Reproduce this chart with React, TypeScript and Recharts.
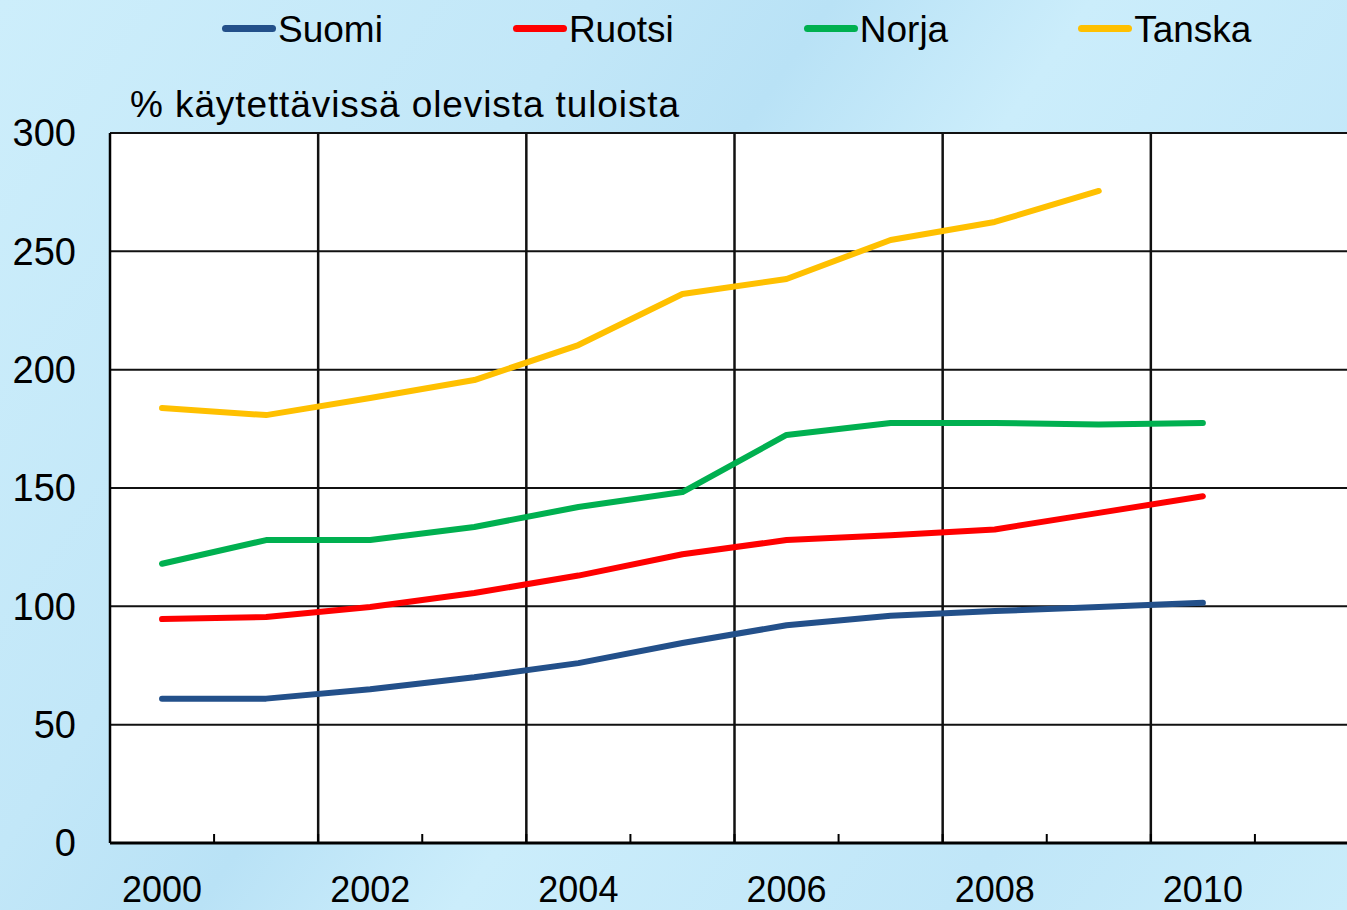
import { LineChart, Line, XAxis, YAxis, CartesianGrid, ReferenceLine } from 'recharts'

const years = [2000, 2001, 2002, 2003, 2004, 2005, 2006, 2007, 2008, 2009, 2010]
const suomi = [61, 61, 65, 70, 76, 84.5, 92, 96, 98, 99.7, 101.5]
const ruotsi = [94.6, 95.5, 99.7, 105.6, 113, 122, 128, 130, 132.5, 139.5, 146.5]
const norja = [118, 128, 128, 133.5, 142, 148.3, 172.4, 177.5, 177.5, 176.8, 177.5]
const tanska = [183.8, 180.8, 188, 195.6, 210.4, 232, 238.3, 254.8, 262.4, 275.5, null]

const yTicks = [0, 50, 100, 150, 200, 250, 300]
const xLabelYears = [2000, 2002, 2004, 2006, 2008, 2010]
const xBoundaries = [2000.5, 2001.5, 2002.5, 2003.5, 2004.5, 2005.5, 2006.5, 2007.5, 2008.5, 2009.5, 2010.5]
const gridBoundaries = [2001.5, 2003.5, 2005.5, 2007.5, 2009.5]
const yUnit = '% käytettävissä olevista tuloista'

const series = [
  { key: 'suomi', name: 'Suomi', color: '#23508A', values: suomi },
  { key: 'ruotsi', name: 'Ruotsi', color: '#FF0000', values: ruotsi },
  { key: 'norja', name: 'Norja', color: '#00B050', values: norja },
  { key: 'tanska', name: 'Tanska', color: '#FFC000', values: tanska },
]

const data = years.map((year, i) => {
  const row: Record<string, number | null> = { year }
  series.forEach((s) => {
    row[s.key] = s.values[i]
  })
  return row
})

const xTicks = [...xLabelYears, ...xBoundaries].sort((a, b) => a - b)

const FONT = '"Liberation Sans", Arial, sans-serif'

function XTick(props: any) {
  const { x, y, payload } = props
  const v = payload.value
  if (Number.isInteger(v)) {
    return (
      <text x={x} y={y + 59} textAnchor="middle" fontSize={36} fill="#000" fontFamily={FONT}>
        {v}
      </text>
    )
  }
  return <line x1={x} x2={x} y1={y} y2={y - 9} stroke="#000" strokeWidth={2} />
}

export default function App() {
  return (
    <div
      style={{
        position: 'absolute',
        left: 0,
        top: 0,
        width: 1347,
        height: 910,
        overflow: 'hidden',
        background:
          'linear-gradient(125deg, #cdeefb 0%, #c2e7f8 30%, #b9e2f6 42%, #cbedfb 55%, #c0e6f8 80%, #c9ecfa 100%)',
        fontFamily: FONT,
      }}
    >
      <div style={{ position: 'absolute', left: 222, top: 11, display: 'flex', gap: 130 }}>
        {series.map((s) => (
          <div key={s.key} style={{ display: 'flex', alignItems: 'flex-start' }}>
            <div
              style={{
                width: 54,
                height: 7,
                borderRadius: 4,
                background: s.color,
                marginTop: 14,
                marginRight: 2,
              }}
            />
            <span style={{ fontSize: 37, lineHeight: '37px', color: '#000' }}>{s.name}</span>
          </div>
        ))}
      </div>
      <div
        style={{
          position: 'absolute',
          left: 130,
          top: 86,
          fontSize: 37,
          lineHeight: '37px',
          letterSpacing: 0.9,
          color: '#000',
          whiteSpace: 'nowrap',
        }}
      >
        {yUnit}
      </div>
      <div style={{ position: 'absolute', left: 0, top: 0 }}>
        <LineChart width={1362} height={910} data={data} margin={{ top: 133, right: 3, left: 0, bottom: 0 }}>
          <CartesianGrid vertical={false} fill="#ffffff" stroke="#111" strokeWidth={2} />
          {gridBoundaries.map((b) => (
            <ReferenceLine key={b} x={b} stroke="#111" strokeWidth={2.5} />
          ))}
          <XAxis
            dataKey="year"
            type="number"
            domain={[1999.5, 2011.5]}
            ticks={xTicks}
            interval={0}
            tick={<XTick />}
            tickLine={false}
            tickSize={0}
            tickMargin={0}
            height={67}
            axisLine={{ stroke: '#000', strokeWidth: 3 }}
          />
          <YAxis
            domain={[0, 300]}
            ticks={yTicks}
            interval={0}
            width={110}
            tickLine={false}
            tickSize={0}
            tickMargin={34}
            tick={{ fontSize: 38, fill: '#000', fontFamily: FONT }}
            axisLine={{ stroke: '#000', strokeWidth: 2.5 }}
          />
          {series.map((s) => (
            <Line
              key={s.key}
              dataKey={s.key}
              name={s.name}
              type="linear"
              stroke={s.color}
              strokeWidth={6}
              strokeLinecap="round"
              strokeLinejoin="round"
              dot={false}
              activeDot={false}
              isAnimationActive={false}
            />
          ))}
        </LineChart>
      </div>
    </div>
  )
}
